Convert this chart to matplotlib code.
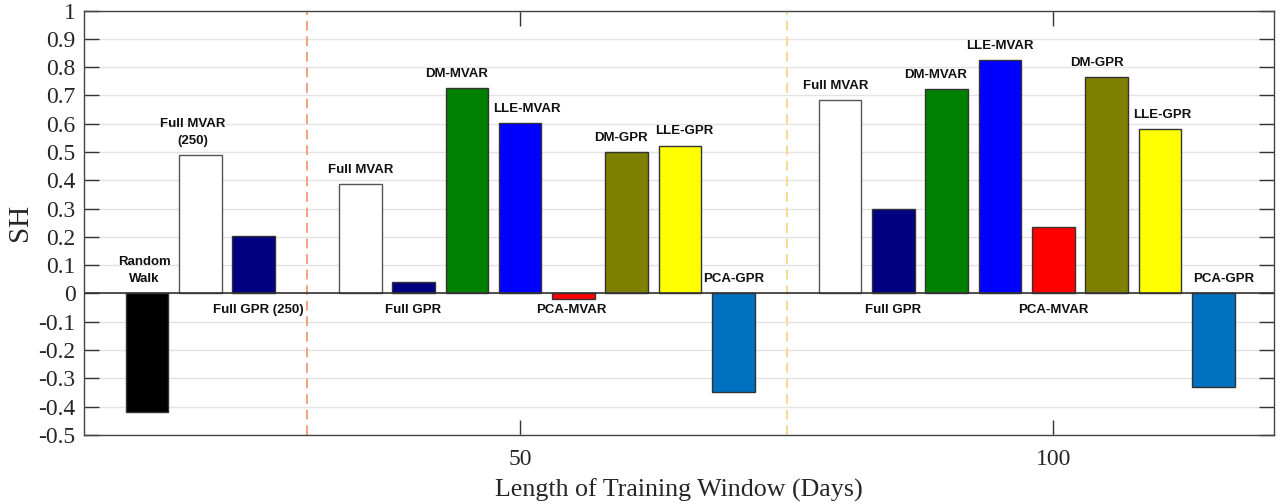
import numpy as np
import matplotlib
matplotlib.use("Agg")
import matplotlib.pyplot as plt

# --- данные ---
methods_250 = ['Random Walk', 'Full MVAR (250)', 'Full GPR (250)']
sh_250 = [-0.418, 0.490, 0.203]

methods = ['Full MVAR', 'Full GPR', 'DM-MVAR', 'LLE-MVAR',
           'PCA-MVAR', 'DM-GPR', 'LLE-GPR', 'PCA-GPR']
sh_50 = [0.387, 0.041, 0.726, 0.602, -0.018, 0.500, 0.523, -0.348]
sh_100 = [0.684, 0.300, 0.724, 0.825, 0.234, 0.766, 0.582, -0.329]

tick_labels = ['50', '100']

# цвета по методам (как в MATLAB-оригинале)
colors = {
    'Random Walk': '#000000',
    'Full MVAR (250)': '#ffffff',
    'Full GPR (250)': '#000080',
    'Full MVAR': '#ffffff',
    'Full GPR': '#000080',
    'DM-MVAR': '#008000',
    'LLE-MVAR': '#0000ff',
    'PCA-MVAR': '#ff0000',
    'DM-GPR': '#808000',
    'LLE-GPR': '#ffff00',
    'PCA-GPR': '#0070c0',
}
# подписи под нулевой линией
below = {'Full GPR (250)', 'Full GPR', 'PCA-MVAR'}
# текст подписи, если отличается от имени метода
label_text = {'Random Walk': 'Random\nWalk', 'Full MVAR (250)': 'Full MVAR\n(250)'}
# ручные сдвиги подписей по x (в долях слота), как расставлено в оригинале
nudge = {
    (0, 'Full MVAR (250)'): -0.14,
    (0, 'Random Walk'): -0.05,
    (0, 'Full GPR (250)'): 0.08,
    (1, 'DM-MVAR'): -0.19,
    (1, 'LLE-MVAR'): 0.13,
    (1, 'DM-GPR'): -0.11,
    (1, 'LLE-GPR'): 0.07,
    (1, 'PCA-MVAR'): -0.05,
    (2, 'Full MVAR'): -0.09,
    (2, 'DM-MVAR'): -0.2,
    (2, 'DM-GPR'): -0.18,
    (2, 'PCA-GPR'): 0.2,
    (2, 'LLE-GPR'): 0.05,
}

plt.rcParams['axes.unicode_minus'] = False

fig = plt.figure(figsize=(12.81, 5.04), dpi=100)
ax = fig.add_axes([0.0656, 0.137, 0.929, 0.842])

# позиции столбцов: группы идут подряд, между группами один пустой слот
pos_250 = np.arange(len(methods_250))
pos_50 = pos_250[-1] + 2 + np.arange(len(methods))
pos_100 = pos_50[-1] + 2 + np.arange(len(methods))
separators = [pos_250[-1] + 1, pos_50[-1] + 1]
sep_colors = ['#f4a07e', '#f8d890']

width = 0.8
label_font = dict(family='Liberation Sans', fontweight='bold', fontsize=9.5,
                  color='#111111', ha='center', va='center')

for g, (names, vals, pos) in enumerate([(methods_250, sh_250, pos_250),
                                        (methods, sh_50, pos_50),
                                        (methods, sh_100, pos_100)]):
    for name, v, x in zip(names, vals, pos):
        ax.bar(x, v, width=width, color=colors[name],
               edgecolor='#333333' if colors[name] != '#ffffff' else '#555555',
               linewidth=1.0, zorder=3)
        if name in below:
            y = -0.06
        elif v > 0:
            y = v + 0.05
        else:
            y = 0.05
        txt = label_text.get(name, name)
        if '\n' in txt:
            y += 0.03
        ax.text(x + nudge.get((g, name), 0.0), y, txt, zorder=5,
                linespacing=1.55, **label_font)

# нулевая линия
ax.axhline(0, color='#333333', linewidth=1.2, zorder=4)

# разделители групп
for xs, c in zip(separators, sep_colors):
    ax.axvline(xs, color=c, linestyle=(0, (5, 3)), linewidth=1.4, zorder=2)

ax.set_xlim(pos_250[0] - 1.18, pos_100[-1] + 1.14)
ax.set_ylim(-0.5, 1.0)
yt = np.round(np.arange(-0.5, 1.01, 0.1), 1)
ax.set_yticks(yt)
ax.set_yticklabels(['0' if v == 0 else ('1' if v == 1 else f'{v:g}') for v in yt])
ax.set_xticks([pos_50[3], pos_100[4]])
ax.set_xticklabels(tick_labels)

ax.grid(axis='y', color='#e3e3e3', linewidth=1.0, zorder=0)
ax.set_axisbelow(True)

ax.tick_params(direction='in', length=11, width=1.0, color='#333333',
               top=True, right=True, labelsize=17, pad=6)
ax.tick_params(axis='x', pad=10)
for lab in ax.get_xticklabels() + ax.get_yticklabels():
    lab.set_family('Liberation Serif')
    lab.set_color('#262626')
for s in ax.spines.values():
    s.set_color('#444444')
    s.set_linewidth(1.0)

ax.set_xlabel('Length of Training Window (Days)', family='Liberation Serif',
              fontsize=18.7, color='#262626', labelpad=6)
ax.set_ylabel('SH', family='Liberation Serif', fontsize=21, color='#262626',
              labelpad=4)

fig.savefig('out.png', dpi=100)
